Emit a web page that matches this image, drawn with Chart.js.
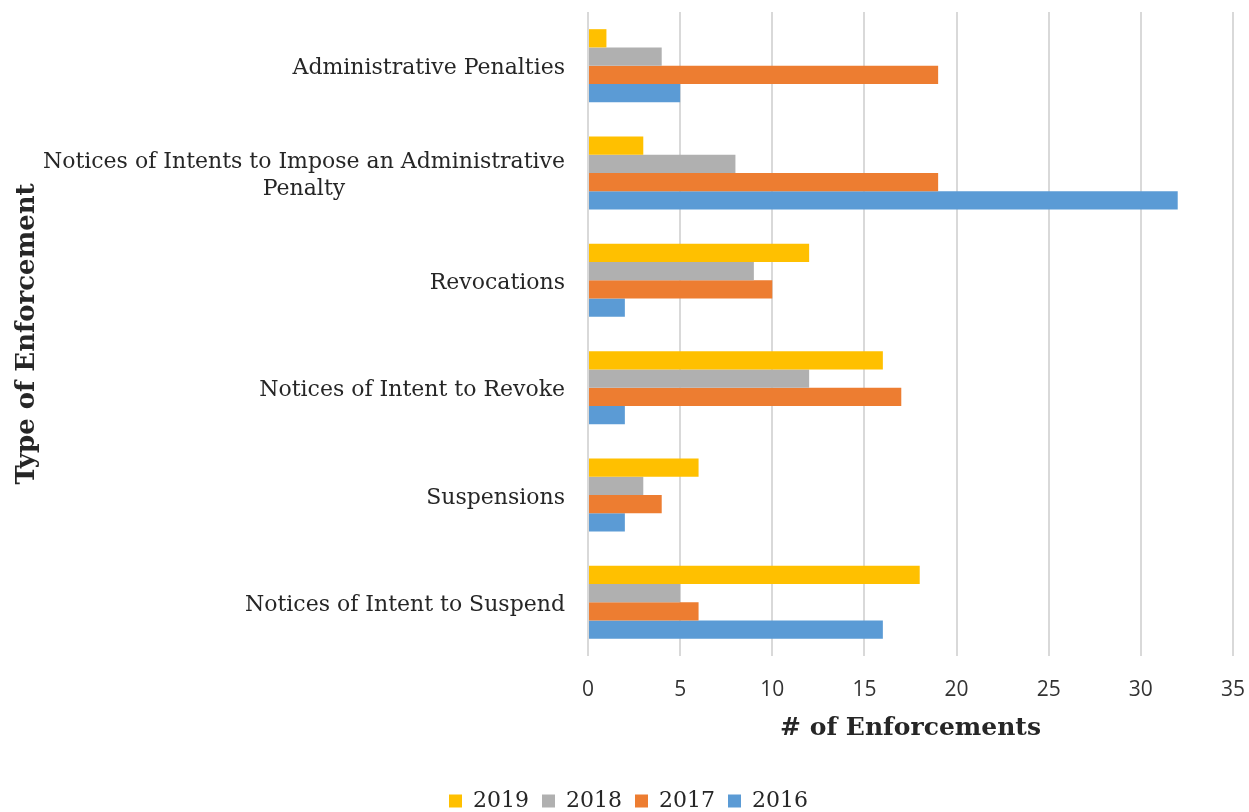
<!DOCTYPE html>
<html>
<head>
<meta charset="utf-8">
<title>Type of Enforcement</title>
<script src="https://cdn.jsdelivr.net/npm/chart.js@4"></script>
<style>
  html, body { margin: 0; padding: 0; background: #ffffff; }
  #wrap { width: 1249px; height: 812px; }
</style>
</head>
<body>
<div id="wrap"><canvas id="chart" width="1249" height="812"></canvas></div>
<script>
// Enforcement counts by type and year
const categories = [
  "Administrative Penalties",
  ["Notices of Intents to Impose an Administrative", "Penalty"],
  "Revocations",
  "Notices of Intent to Revoke",
  "Suspensions",
  "Notices of Intent to Suspend"
];
const years = ["2019", "2018", "2017", "2016"];
const values2019 = [1, 3, 12, 16, 6, 18];
const values2018 = [4, 8, 9, 12, 3, 5];
const values2017 = [19, 19, 10, 17, 4, 6];
const values2016 = [5, 32, 2, 2, 2, 16];
const xTicks = [0, 5, 10, 15, 20, 25, 30, 35];

const colors = ["#FFC000", "#B0B0B0", "#ED7D31", "#5B9BD5"];
const serif = "'DejaVu Serif', Georgia, serif";
const sans = "'Open Sans', 'Noto Sans', sans-serif";

// Category labels: single lines right aligned, wrapped labels centred as a block
const categoryLabels = {
  id: 'categoryLabels',
  afterDraw(chart) {
    const ys = chart.scales.y;
    const ctx = chart.ctx;
    const size = 22, lh = 27, nudge = 3;
    ctx.save();
    ctx.font = size + "px " + serif;
    ctx.fillStyle = "#262626";
    ctx.textBaseline = "middle";
    ctx.textAlign = "center";
    const right = ys.right - 23;
    categories.forEach((lab, i) => {
      const lines = Array.isArray(lab) ? lab : [lab];
      const widest = Math.max(...lines.map(l => ctx.measureText(l).width));
      const cx = right - widest / 2;
      const cy = ys.getPixelForTick(i) + nudge;
      lines.forEach((l, k) => {
        ctx.fillText(l, cx, cy - (lines.length - 1) * lh / 2 + k * lh);
      });
    });
    ctx.restore();
  }
};

const series = [values2019, values2018, values2017, values2016];

new Chart(document.getElementById("chart"), {
  type: "bar",
  data: {
    labels: categories,
    datasets: years.map((y, i) => ({
      label: y,
      data: series[i],
      backgroundColor: colors[i],
      borderWidth: 0,
      categoryPercentage: 0.68,
      barPercentage: 1.0
    }))
  },
  options: {
    indexAxis: "y",
    responsive: false,
    animation: false,
    layout: { padding: { top: 12, left: 24, right: 16, bottom: -10 } },
    plugins: {
      legend: {
        position: "bottom",
        labels: {
          boxWidth: 13,
          boxHeight: 13,
          padding: 13,
          color: "#262626",
          font: { family: serif, size: 22 }
        }
      },
      tooltip: { enabled: false }
    },
    scales: {
      x: {
        min: 0,
        max: 35,
        afterBuildTicks(scale) { scale.ticks = xTicks.map(v => ({ value: v })); },
        afterFit(scale) { scale.height = 121; },
        grid: {
          color: "#D9D9D9",
          lineWidth: 2,
          drawTicks: true,
          tickLength: 21,
          tickColor: "rgba(0,0,0,0)"
        },
        border: { display: false },
        ticks: {
          padding: 0,
          color: "#333333",
          font: { family: sans, size: 21 }
        },
        title: {
          display: true,
          text: "# of Enforcements",
          color: "#262626",
          font: { family: serif, size: 25, weight: "bold" },
          padding: { top: 0, bottom: 34 }
        }
      },
      y: {
        afterFit(scale) { scale.width = 564; },
        grid: { display: false },
        border: { display: false },
        ticks: { display: false },
        title: {
          display: true,
          text: "Type of Enforcement",
          color: "#262626",
          font: { family: serif, size: 26, weight: "bold" },
          padding: { top: -12, bottom: 0 }
        }
      }
    }
  },
  plugins: [categoryLabels]
});
</script>
</body>
</html>
